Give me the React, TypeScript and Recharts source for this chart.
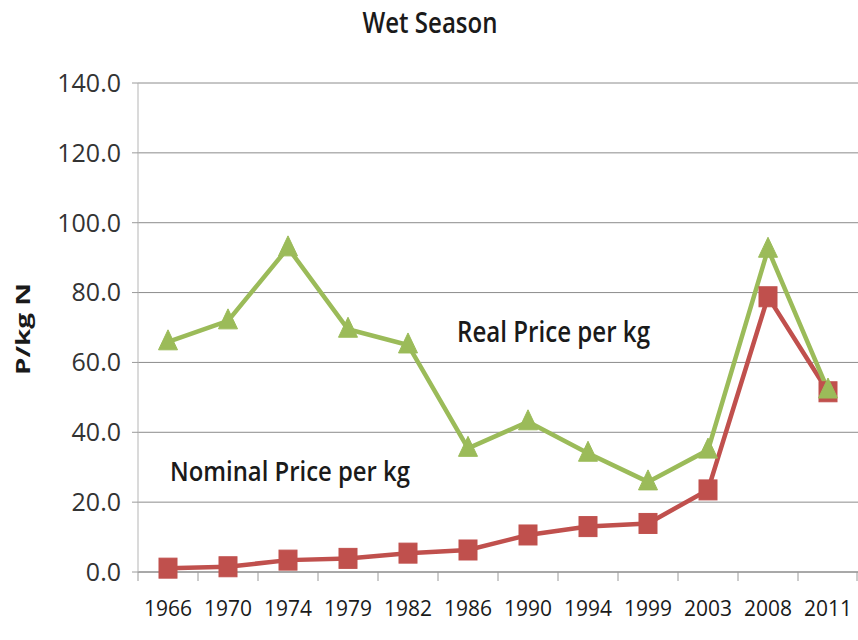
import React from "react";
import { LineChart, Line, XAxis, YAxis, CartesianGrid } from "recharts";

const years = ["1966", "1970", "1974", "1979", "1982", "1986", "1990", "1994", "1999", "2003", "2008", "2011"];
const realPrice = [65.9, 71.9, 92.8, 69.5, 65.0, 35.4, 43.0, 34.0, 25.8, 34.9, 92.4, 52.1];
const nominalPrice = [1.1, 1.5, 3.4, 3.9, 5.4, 6.3, 10.6, 13.0, 13.9, 23.5, 78.8, 51.6];
const yTicks = [0, 20, 40, 60, 80, 100, 120, 140];

const data = years.map((y, i) => ({ year: y, real: realPrice[i], nominal: nominalPrice[i] }));

const W = 858;
const H = 640;
const LEFT = 138;
const RIGHT = 0;
const BAND = (W - LEFT - RIGHT) / years.length;
const GREEN = "#9bbb59";
const RED = "#c0504d";
const FONT = "'Open Sans', 'DejaVu Sans', sans-serif";

const Triangle = (props: any) => {
  const { cx, cy, index } = props;
  if (cx == null || cy == null) return <g key={index} />;
  return (
    <polygon
      key={index}
      points={`${cx},${cy - 12} ${cx - 9.5},${cy + 8} ${cx + 9.5},${cy + 8}`}
      fill={GREEN}
      stroke={GREEN}
    />
  );
};

const Square = (props: any) => {
  const { cx, cy, index } = props;
  if (cx == null || cy == null) return <g key={index} />;
  return <rect key={index} x={cx - 9} y={cy - 10} width={18} height={20} fill={RED} stroke={RED} />;
};

const XTick = (props: any) => {
  const { x, y, payload, index } = props;
  const last = index === years.length - 1;
  return (
    <g>
      <line x1={x - BAND / 2} y1={y} x2={x - BAND / 2} y2={y + 9} stroke="#9a9a9a" strokeWidth={1} />
      {last && <line x1={x + BAND / 2 - 1} y1={y} x2={x + BAND / 2 - 1} y2={y + 9} stroke="#9a9a9a" strokeWidth={1} />}
      <text x={x} y={y + 44} textAnchor="middle" fontFamily={FONT} fontSize={21} fill="#1a1a1a" textLength={48} lengthAdjust="spacingAndGlyphs">
        {payload.value}
      </text>
    </g>
  );
};

export default function App() {
  return (
    <div style={{ position: "absolute", left: 0, top: 0, width: W, height: H, background: "#fff" }}>
      <LineChart
        width={W}
        height={H}
        data={data}
        margin={{ top: 83, right: RIGHT, bottom: 18, left: 0 }}
      >
        <CartesianGrid vertical={false} stroke="#8c8c8c" strokeWidth={1} />
        <XAxis
          dataKey="year"
          height={50}
          tickSize={0}
          tickMargin={0}
          tickLine={false}
          padding={{ left: BAND / 2, right: BAND / 2 }}
          axisLine={{ stroke: "#8c8c8c", strokeWidth: 1 }}
          tick={<XTick />}
          interval={0}
        />
        <YAxis
          width={LEFT}
          domain={[0, 140]}
          ticks={yTicks}
          tickFormatter={(v: number) => v.toFixed(1)}
          tickSize={6}
          tickMargin={11}
          tickLine={{ stroke: "#9a9a9a" }}
          axisLine={{ stroke: "#b5b5b5", strokeWidth: 1 }}
          tick={{ fontFamily: FONT, fontSize: 25, fill: "#333" }}
          interval={0}
        />
        <Line
          dataKey="nominal"
          stroke={RED}
          strokeWidth={4.5}
          dot={<Square />}
          isAnimationActive={false}
        />
        <Line
          dataKey="real"
          stroke={GREEN}
          strokeWidth={4.5}
          dot={<Triangle />}
          isAnimationActive={false}
        />
      </LineChart>
      <svg width={W} height={H} style={{ position: "absolute", left: 0, top: 0, pointerEvents: "none" }}>
        <text x={430} y={33} textAnchor="middle" fontFamily={FONT} fontWeight={600} fontSize={28} fill="#1a1a1a" textLength={135} lengthAdjust="spacingAndGlyphs">
          Wet Season
        </text>
        <text x={457} y={342} fontFamily={FONT} fontWeight={600} fontSize={28} fill="#1a1a1a" textLength={193} lengthAdjust="spacingAndGlyphs">
          Real Price per kg
        </text>
        <text x={170} y={481} fontFamily={FONT} fontWeight={600} fontSize={27} fill="#1a1a1a" textLength={240} lengthAdjust="spacingAndGlyphs">
          Nominal Price per kg
        </text>
        <text
          x={0}
          y={0}
          transform="translate(30,329) rotate(-90)"
          textAnchor="middle"
          fontFamily={FONT}
          fontWeight="bold"
          fontSize={20}
          fill="#1a1a1a"
          textLength={92}
          lengthAdjust="spacingAndGlyphs"
        >
          P/kg  N
        </text>
      </svg>
    </div>
  );
}
